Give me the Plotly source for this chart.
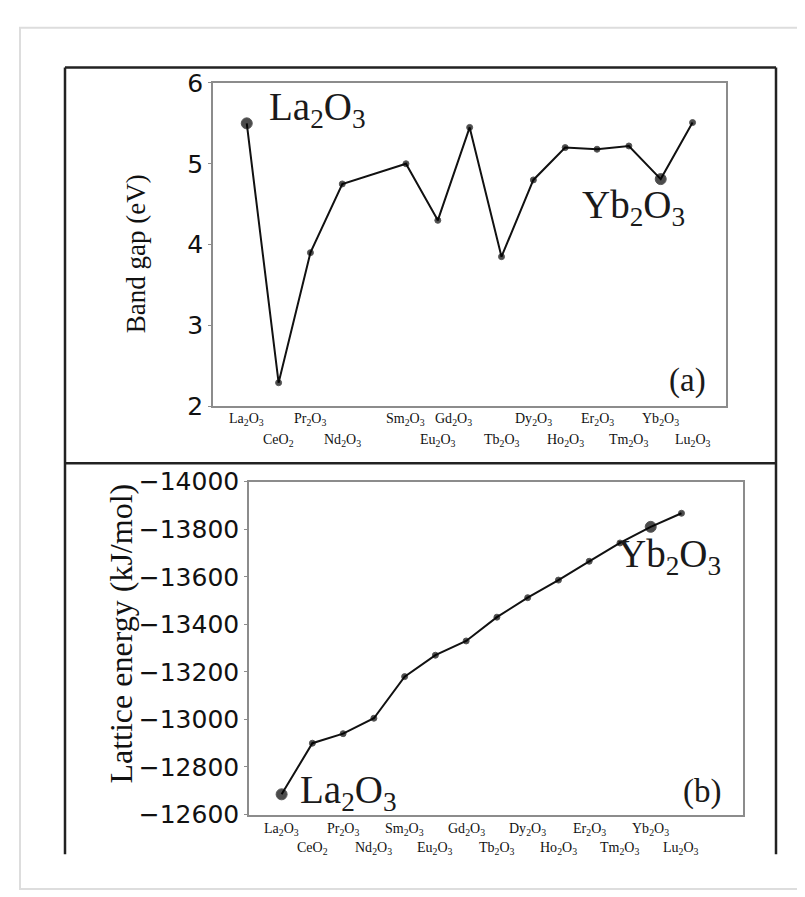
import plotly.graph_objects as go

# ---- data ----
compounds = ["La2O3", "CeO2", "Pr2O3", "Nd2O3", "Sm2O3", "Eu2O3", "Gd2O3",
             "Tb2O3", "Dy2O3", "Ho2O3", "Er2O3", "Tm2O3", "Yb2O3", "Lu2O3"]
tick_html = ["La<sub>2</sub>O<sub>3</sub>", "CeO<sub>2</sub>", "Pr<sub>2</sub>O<sub>3</sub>",
             "Nd<sub>2</sub>O<sub>3</sub>", "Sm<sub>2</sub>O<sub>3</sub>", "Eu<sub>2</sub>O<sub>3</sub>",
             "Gd<sub>2</sub>O<sub>3</sub>", "Tb<sub>2</sub>O<sub>3</sub>", "Dy<sub>2</sub>O<sub>3</sub>",
             "Ho<sub>2</sub>O<sub>3</sub>", "Er<sub>2</sub>O<sub>3</sub>", "Tm<sub>2</sub>O<sub>3</sub>",
             "Yb<sub>2</sub>O<sub>3</sub>", "Lu<sub>2</sub>O<sub>3</sub>"]
# panel (a): Pm2O3 slot left empty
pos_a = [0, 1, 2, 3, 5, 6, 7, 8, 9, 10, 11, 12, 13, 14]
label_pos_a = [0, 1, 2, 3, 5, 6, 6.5, 8, 9, 10, 11, 12, 13, 14]
band_gap = [5.50, 2.29, 3.90, 4.75, 5.00, 4.30, 5.45, 3.85, 4.80, 5.20, 5.18, 5.22, 4.81, 5.51]
# panel (b)
pos_b = list(range(14))
lattice = [-12685, -12900, -12940, -13005, -13180, -13270, -13330, -13430,
           -13512, -13586, -13665, -13742, -13810, -13867]
label_row = [0, 1, 0, 1, 0, 1, 0, 1, 0, 1, 0, 1, 0, 1]
highlight = ["La2O3", "Yb2O3"]

W, H = 805, 897
def px(x):
    return x / W
def py(y):
    return 1 - y / H

sizes = [11 if c in highlight else 6 for c in compounds]

fig = go.Figure()
fig.add_trace(go.Scatter(x=pos_a, y=band_gap, mode="lines+markers",
                         line=dict(color="#111", width=2),
                         marker=dict(color="#000", size=sizes),
                         xaxis="x", yaxis="y", showlegend=False))
fig.add_trace(go.Scatter(x=pos_b, y=lattice, mode="lines+markers",
                         line=dict(color="#111", width=2),
                         marker=dict(color="#000", size=sizes),
                         xaxis="x2", yaxis="y2", showlegend=False))

frame = dict(showline=True, linecolor="#8c8c8c", linewidth=1.5, mirror=True,
             showgrid=False, zeroline=False)
tickfont = dict(family="DejaVu Sans", size=25, color="#111")

fig.update_layout(
    width=W, height=H, margin=dict(l=0, r=0, t=0, b=0),
    paper_bgcolor="white", plot_bgcolor="white",
    xaxis=dict(domain=[px(205), px(718)], range=[-1.06, 15.05],
               showticklabels=False, ticks="", anchor="y", **frame),
    yaxis=dict(domain=[py(397), py(63)], range=[2, 6], dtick=1,
               ticks="outside", ticklen=3, tickcolor="#8c8c8c",
               tickfont=tickfont, anchor="x", **frame),
    xaxis2=dict(domain=[px(241), px(735)], range=[-1.06, 15.0],
                showticklabels=False, ticks="", anchor="y2", **frame),
    yaxis2=dict(domain=[py(819), py(475)], range=[-12600, -14000], dtick=200,
                tickformat="d", ticks="outside", ticklen=3, tickcolor="#8c8c8c",
                tickfont=tickfont, anchor="x2", **frame),
)

ann = []
serif = "Liberation Serif"
labfont = dict(family=serif, size=14, color="#111")
# category labels, two staggered rows
for i, t in enumerate(tick_html):
    ya = py(411) if label_row[i] == 0 else py(432)
    ann.append(dict(x=label_pos_a[i], y=ya, xref="x", yref="paper", text=t,
                    showarrow=False, font=labfont, xanchor="center", yanchor="middle"))
    yb = py(834) if label_row[i] == 0 else py(854)
    ann.append(dict(x=pos_b[i], y=yb, xref="x2", yref="paper", text=t,
                    showarrow=False, font=labfont, xanchor="center", yanchor="middle"))

big = dict(family=serif, size=39, color="#1a1a1a")
ann += [
    dict(x=px(259), y=py(90), xref="paper", yref="paper", text="La<sub>2</sub>O<sub>3</sub>",
         showarrow=False, font=big, xanchor="left", yanchor="middle"),
    dict(x=px(572), y=py(192), xref="paper", yref="paper", text="Yb<sub>2</sub>O<sub>3</sub>",
         showarrow=False, font=big, xanchor="left", yanchor="middle"),
    dict(x=px(679), y=py(370), xref="paper", yref="paper", text="(a)",
         showarrow=False, font=dict(family=serif, size=33, color="#1a1a1a"),
         xanchor="center", yanchor="middle"),
    dict(x=px(290), y=py(796), xref="paper", yref="paper", text="La<sub>2</sub>O<sub>3</sub>",
         showarrow=False, font=big, xanchor="left", yanchor="middle"),
    dict(x=px(608), y=py(552), xref="paper", yref="paper", text="Yb<sub>2</sub>O<sub>3</sub>",
         showarrow=False, font=big, xanchor="left", yanchor="middle"),
    dict(x=px(694), y=py(795), xref="paper", yref="paper", text="(b)",
         showarrow=False, font=dict(family=serif, size=33, color="#1a1a1a"),
         xanchor="center", yanchor="middle"),
    dict(x=px(128), y=py(240), xref="paper", yref="paper", text="Band gap (eV)",
         showarrow=False, textangle=-90, font=dict(family=serif, size=27, color="#111"),
         xanchor="center", yanchor="middle"),
    dict(x=px(113), y=py(632), xref="paper", yref="paper", text="Lattice energy (kJ/mol)",
         showarrow=False, textangle=-90, font=dict(family=serif, size=32, color="#111"),
         xanchor="center", yanchor="middle"),
]
fig.update_layout(annotations=ann)

# outer page frame and black panel box
shapes = [
    dict(type="rect", xref="paper", yref="paper", x0=px(12), y0=py(896), x1=px(806), y1=py(6),
         line=dict(color="#dddddd", width=2)),
    dict(type="line", xref="paper", yref="paper", x0=px(57), y0=py(47), x1=px(57), y1=py(860),
         line=dict(color="#222", width=2.5)),
    dict(type="line", xref="paper", yref="paper", x0=px(768), y0=py(47), x1=px(768), y1=py(860),
         line=dict(color="#222", width=2.5)),
    dict(type="line", xref="paper", yref="paper", x0=px(57), y0=py(47), x1=px(768), y1=py(47),
         line=dict(color="#222", width=2.5)),
    dict(type="line", xref="paper", yref="paper", x0=px(57), y0=py(456), x1=px(768), y1=py(456),
         line=dict(color="#222", width=2.5)),
]
fig.update_layout(shapes=shapes)

fig.write_html("out.html")
